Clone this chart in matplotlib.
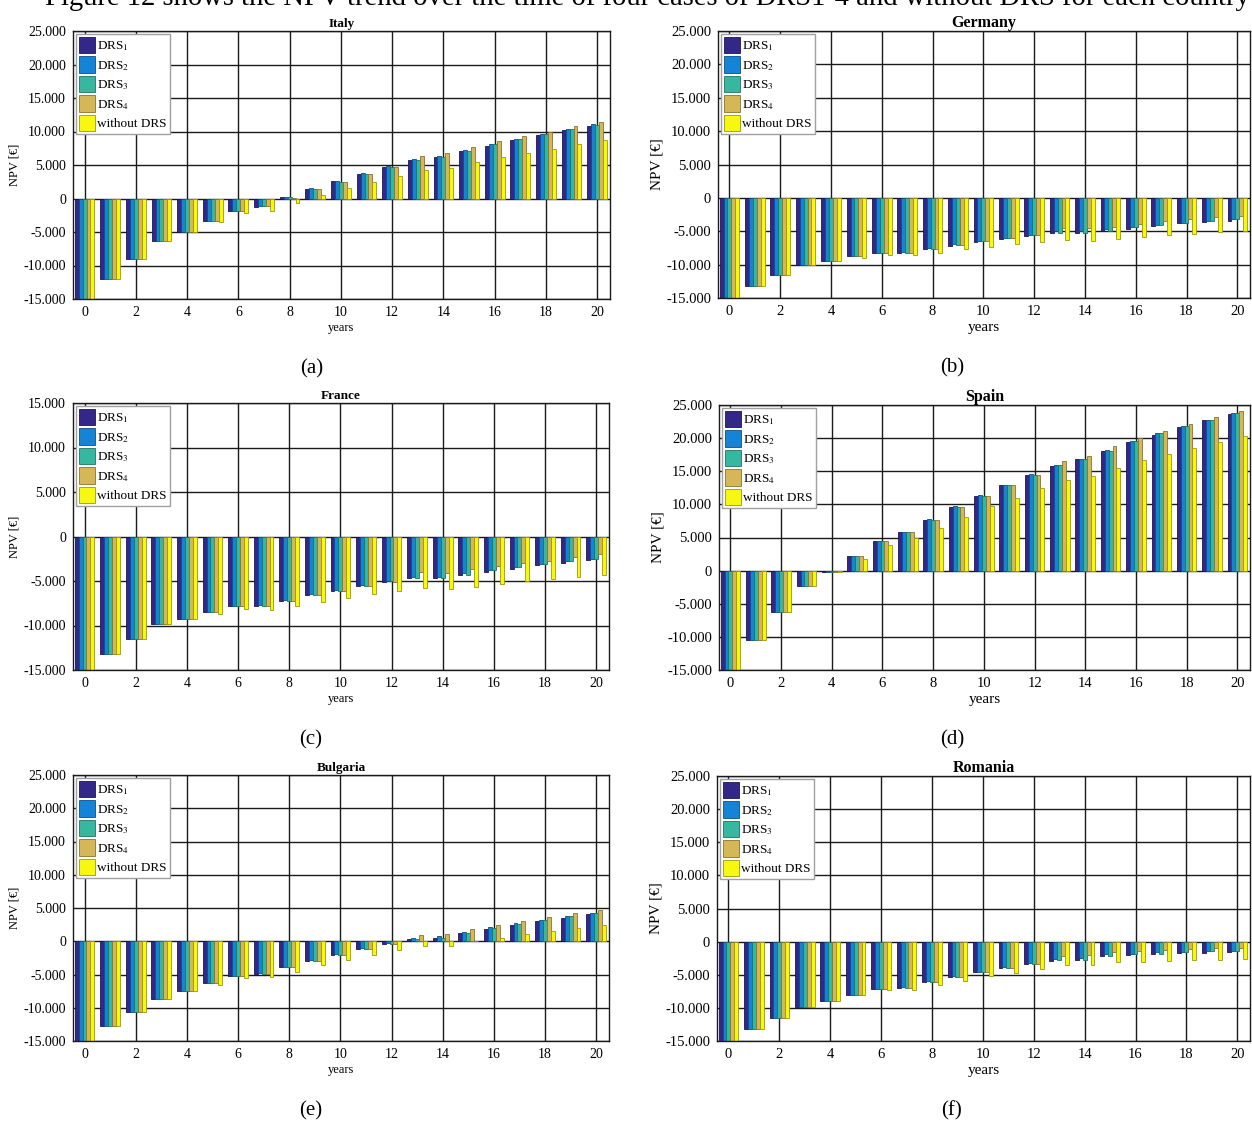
import numpy as np
import matplotlib
matplotlib.use("Agg")
import matplotlib.pyplot as plt
from matplotlib.ticker import FuncFormatter

plt.rcParams['font.family'] = ['Liberation Serif', 'DejaVu Serif']
plt.rcParams['mathtext.fontset'] = 'stix'

years = np.arange(0, 21)
series_labels = ['DRS$_1$', 'DRS$_2$', 'DRS$_3$', 'DRS$_4$', 'without DRS']
face_colors = ['#33288a', '#1584d6', '#35b7a0', '#d6b757', '#f7f70f']
edge_colors = ['#1c1650', '#0c4f86', '#1f7565', '#8a7330', '#9a9a08']

# NPV [EUR] per year, rows: DRS1, DRS2, DRS3, DRS4, without DRS
italy = [
    [-15000, -12000, -9100, -6300, -4950, -3300, -1900, -1200, 150, 1400, 2550, 3700, 4700, 5750, 6200, 7050, 7900, 8750, 9550, 10150, 10850],
    [-15000, -12000, -9100, -6300, -4950, -3300, -1900, -1050, 250, 1500, 2650, 3800, 4900, 5900, 6350, 7250, 8150, 8900, 9700, 10350, 11100],
    [-15000, -12000, -9100, -6300, -4950, -3300, -1900, -1150, 150, 1350, 2500, 3700, 4750, 5750, 6150, 7050, 8100, 8850, 9650, 10350, 11000],
    [-15000, -12000, -9100, -6300, -4950, -3300, -1900, -1150, 50, 1350, 2500, 3700, 4750, 6350, 6750, 7650, 8550, 9300, 10000, 10800, 11450],
    [-15000, -12000, -9100, -6300, -4950, -3500, -2200, -1800, -600, 500, 1500, 2500, 3400, 4250, 4550, 5400, 6150, 6750, 7450, 8100, 8700],
]
germany = [
    [-15000, -13200, -11600, -10100, -9450, -8750, -8200, -8200, -7600, -7150, -6550, -6100, -5650, -5200, -5300, -4900, -4600, -4200, -3800, -3600, -3400],
    [-15000, -13200, -11600, -10100, -9450, -8750, -8200, -8100, -7450, -6950, -6400, -5950, -5500, -5000, -5000, -4700, -4300, -4000, -3700, -3400, -3100],
    [-15000, -13200, -11600, -10100, -9450, -8750, -8200, -8200, -7600, -7100, -6500, -6050, -5600, -5200, -5300, -4900, -4300, -4000, -3700, -3400, -3100],
    [-15000, -13200, -11600, -10100, -9450, -8750, -8200, -8200, -7600, -7100, -6500, -6050, -5600, -4500, -4500, -4300, -3900, -3500, -3200, -2900, -2700],
    [-15000, -13200, -11600, -10100, -9450, -8950, -8500, -8600, -8200, -7700, -7350, -6950, -6650, -6250, -6450, -6150, -5850, -5550, -5400, -5100, -4900],
]
france = [
    [-15000, -13200, -11500, -9850, -9300, -8500, -7850, -7850, -7200, -6600, -6100, -5600, -5100, -4700, -4700, -4300, -3950, -3600, -3250, -2950, -2650],
    [-15000, -13200, -11500, -9850, -9300, -8500, -7850, -7750, -7100, -6500, -6000, -5500, -5000, -4500, -4500, -4100, -3750, -3400, -3050, -2750, -2500],
    [-15000, -13200, -11500, -9850, -9300, -8500, -7850, -7850, -7200, -6600, -6100, -5600, -5050, -4700, -4700, -4300, -3750, -3400, -3050, -2750, -2500],
    [-15000, -13200, -11500, -9850, -9300, -8500, -7850, -7850, -7300, -6600, -6100, -5600, -5100, -4000, -4100, -3700, -3300, -3000, -2700, -2350, -2000],
    [-15000, -13200, -11500, -9850, -9300, -8700, -8150, -8300, -7850, -7400, -6900, -6500, -6150, -5800, -5900, -5650, -5300, -5050, -4800, -4600, -4350],
]
spain = [
    [-15000, -10500, -6250, -2300, -200, 2200, 4400, 5800, 7650, 9550, 11200, 12900, 14400, 15850, 16800, 18050, 19400, 20450, 21650, 22750, 23600],
    [-15000, -10500, -6250, -2300, -200, 2200, 4400, 5850, 7750, 9700, 11350, 13000, 14550, 16000, 16900, 18250, 19500, 20700, 21800, 22800, 23850],
    [-15000, -10500, -6250, -2300, -200, 2200, 4400, 5800, 7700, 9600, 11200, 12900, 14400, 15900, 16800, 18100, 19500, 20700, 21800, 22800, 23750],
    [-15000, -10500, -6250, -2300, -200, 2200, 4400, 5800, 7700, 9600, 11200, 12900, 14400, 16500, 17350, 18750, 20000, 21100, 22200, 23250, 24150],
    [-15000, -10500, -6250, -2300, -200, 1800, 3800, 4900, 6500, 8150, 9700, 11000, 12400, 13700, 14350, 15550, 16650, 17550, 18550, 19450, 20250],
]
bulgaria = [
    [-15000, -12800, -10650, -8650, -7550, -6300, -5250, -4950, -3900, -3000, -2100, -1200, -450, 350, 500, 1300, 1900, 2450, 3050, 3550, 4100],
    [-15000, -12800, -10650, -8650, -7550, -6300, -5250, -4800, -3800, -2800, -1900, -1000, -250, 500, 800, 1400, 2100, 2700, 3250, 3800, 4250],
    [-15000, -12800, -10650, -8650, -7550, -6300, -5250, -4900, -3850, -2900, -2000, -1150, -400, 300, 550, 1300, 2000, 2600, 3200, 3750, 4200],
    [-15000, -12800, -10650, -8650, -7550, -6300, -5250, -4900, -3850, -2900, -2000, -1200, -450, 950, 1150, 1800, 2450, 3050, 3650, 4250, 4700],
    [-15000, -12800, -10650, -8650, -7550, -6550, -5550, -5350, -4550, -3600, -2850, -2100, -1350, -750, -650, 0, 550, 1100, 1550, 2050, 2450],
]
romania = [
    [-15000, -13150, -11500, -9900, -8950, -8000, -7150, -7000, -6100, -5350, -4650, -4050, -3400, -2850, -2700, -2100, -2050, -1900, -1750, -1750, -1600],
    [-15000, -13150, -11500, -9900, -8950, -8000, -7150, -6900, -6000, -5250, -4600, -3900, -3250, -2650, -2500, -1900, -1800, -1600, -1550, -1450, -1350],
    [-15000, -13150, -11500, -9900, -8950, -8000, -7150, -7000, -6100, -5350, -4650, -4000, -3350, -2800, -2700, -2100, -1800, -1800, -1600, -1450, -1400],
    [-15000, -13150, -11500, -9900, -8950, -8000, -7150, -7000, -6100, -5350, -4650, -4000, -3400, -2150, -2000, -1550, -1450, -1300, -1150, -1000, -950],
    [-15000, -13150, -11500, -9900, -8950, -8100, -7350, -7300, -6500, -5950, -5250, -4750, -4150, -3500, -3500, -3100, -3000, -2900, -2750, -2750, -2650],
]

panels = [
    # name, data, ylim top, (left, top, width, height) in pixels, sub label, right column?
    ('Italy', italy, 25000, (73, 31, 537, 268), '(a)', False),
    ('Germany', germany, 25000, (718, 31, 532, 267), '(b)', True),
    ('France', france, 15000, (73, 403, 536, 267), '(c)', False),
    ('Spain', spain, 25000, (719, 405, 531, 265), '(d)', True),
    ('Bulgaria', bulgaria, 25000, (73, 775, 536, 266), '(e)', False),
    ('Romania', romania, 25000, (717, 776, 533, 265), '(f)', True),
]

W, H = 1252, 1124
fig = plt.figure(figsize=(W / 100, H / 100), dpi=100)


def thousands(v, pos):
    return '{:,.0f}'.format(v).replace(',', '.')


bw = 0.154
for name, data, ytop, (l, t, w, h), sub, right in panels:
    ax = fig.add_axes([l / W, 1 - (t + h) / H, w / W, h / H])
    ax.set_axisbelow(True)
    for i in range(5):
        ax.bar(years + (i - 2) * bw, data[i], width=bw,
               color=face_colors[i], edgecolor=edge_colors[i],
               linewidth=0.6, label=series_labels[i])
    ax.set_xlim(-0.45, 20.5)
    ax.set_ylim(-15000, ytop)
    ax.set_xticks(np.arange(0, 21, 2))
    ax.set_yticks(np.arange(-15000, ytop + 1, 5000))
    ax.yaxis.set_major_formatter(FuncFormatter(thousands))
    ax.grid(True, color='#1a1a1a', linewidth=1.0)
    for sp in ax.spines.values():
        sp.set_linewidth(1.0)
        sp.set_color('#1a1a1a')
    ax.tick_params(length=0, labelsize=10.5 if right else 10, pad=5)
    fs_lab = 11 if right else 9
    ax.set_xlabel('years', fontsize=fs_lab, labelpad=2)
    ax.set_ylabel('NPV [€]', fontsize=fs_lab, labelpad=2)
    ax.set_title(name, fontsize=fs_lab + 0.5, fontweight='bold', pad=3)
    leg = ax.legend(loc='upper left', fontsize=9.5,
                    handlelength=1.2, handleheight=1.5, handletextpad=0.15,
                    labelspacing=0.25, borderpad=0.25, borderaxespad=0.2,
                    fancybox=False, framealpha=1)
    leg.get_frame().set_edgecolor('#a0a0a0')
    leg.get_frame().set_linewidth(1.0)
    # sub-figure label below the panel
    xoff = 32 if right else 30
    fig.text((l + w / 2 - xoff) / W, 1 - (t + h + 70) / H, sub,
             fontsize=15, ha='center', va='center')

# caption line of the page, cut at the top edge as in the source
fig.text(45 / W, 1 - 5 / H,
         'Figure 12 shows the NPV trend over the time of four cases of DRS1-4 and without DRS for each country',
         fontsize=20.6, ha='left', va='baseline')

fig.savefig('out.png', dpi=100)
